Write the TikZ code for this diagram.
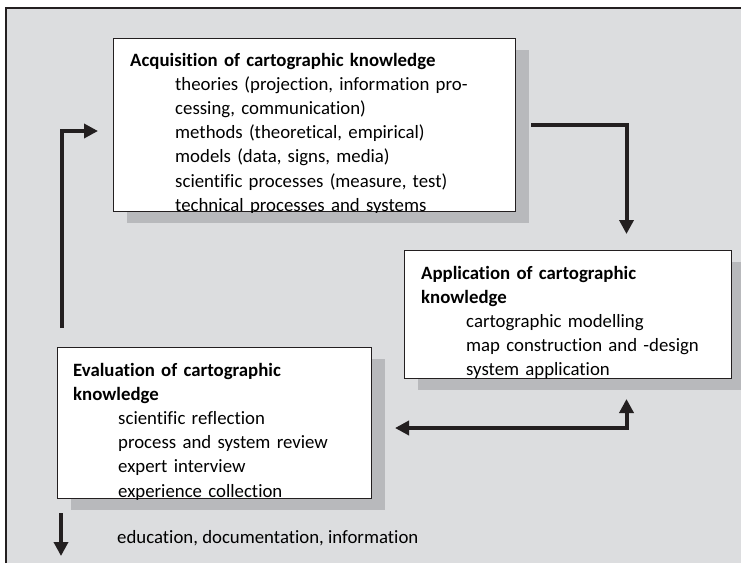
\documentclass[tikz,border=0pt]{standalone}
\usepackage{fontspec}
\setmainfont{Carlito}[Ligatures={NoCommon}]
\usetikzlibrary{positioning,arrows.meta,shadows}
\definecolor{panelgrey}{RGB}{220,221,223}
\definecolor{shadegrey}{RGB}{184,185,188}
\definecolor{inkblack}{RGB}{35,31,32}
\newcommand{\ind}{\hspace*{45pt}}

\begin{document}
\begin{tikzpicture}[x=1pt, y=-1pt, font=\fontsize{18.8}{24.2}\selectfont, line join=miter,
	box/.style={draw=inkblack, line width=1pt, fill=white, anchor=north west, inner sep=0pt,
		drop shadow={shadow xshift=13pt, shadow yshift=-11pt, fill=shadegrey, opacity=1}},
	txt/.style={anchor=base west, inner sep=0pt, text width=#1, align=left},
	flow/.style={draw=inkblack, line width=4pt, -{Triangle[length=14pt,width=14pt]}},
	]
	\useasboundingbox (0,0) rectangle (741,563);
	% frame
	\fill[panelgrey] (6,8) rectangle (741,563);
	\draw[inkblack, line width=2pt] (6,563)--(6,8)--(741,8);
	% boxes
	\node[box, minimum width=402pt, minimum height=173pt] (acq) at (113,38) {};
	\node[box, minimum width=327pt, minimum height=128pt] (app) at (404,250) {};
	\node[box, minimum width=314pt, minimum height=151pt] (eval) at (57,347) {};
	% texts, cut off by the box edges
	\begin{scope}
		\clip (acq.north west) rectangle (acq.south east);
		\node[txt=385pt] (acqtxt) at ([xshift=17pt,yshift=-28pt]acq.north west)
		{\textbf{Acquisition of cartographic knowledge}\\
			\ind theories (projection, information pro-\\
			\ind cessing, communication)\\
			\ind methods (theoretical, empirical)\\
			\ind models (data, signs, media)\\
			\ind scientific processes (measure, test)\\
			\ind technical processes and systems};
	\end{scope}
	\begin{scope}
		\clip (app.north west) rectangle (app.south east);
		\node[txt=310pt] (apptxt) at ([xshift=17pt,yshift=-29pt]app.north west)
		{\textbf{Application of cartographic}\\
			\textbf{knowledge}\\
			\ind cartographic modelling\\
			\ind map construction and -design\\
			\ind system application};
	\end{scope}
	\begin{scope}
		\clip (eval.north west) rectangle (eval.south east);
		\node[txt=298pt] (evaltxt) at ([xshift=16pt,yshift=-29pt]eval.north west)
		{\textbf{Evaluation of cartographic}\\
			\textbf{knowledge}\\
			\ind scientific reflection\\
			\ind process and system review\\
			\ind expert interview\\
			\ind experience collection};
	\end{scope}
	% arrows
	\draw[flow] ([xshift=15pt]acq.east) -| ([xshift=58.5pt,yshift=16pt]app.north);
	\draw[flow] ([xshift=5pt,yshift=19pt]eval.north west) |- ([xshift=-15pt,yshift=-93pt]acq.north west);
	\draw[flow, {Triangle[length=14pt,width=14pt]}-{Triangle[length=14pt,width=14pt]}]
		([xshift=23pt,yshift=-5pt]eval.east) -| ([xshift=58.5pt,yshift=-20pt]app.south);
	\coordinate (sink) at (61,556);
	\draw[flow] ([xshift=4pt,yshift=-14pt]eval.south west) -- (sink);
	\node[anchor=base west, inner sep=0pt] (note) at (117,543) {education, documentation, information};
\end{tikzpicture}
\end{document}
